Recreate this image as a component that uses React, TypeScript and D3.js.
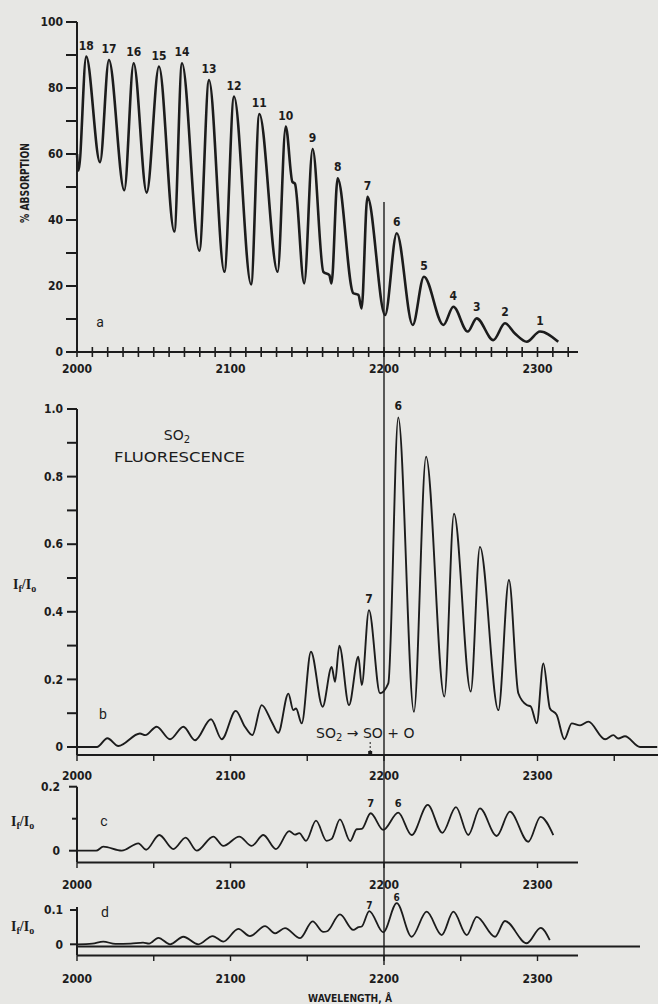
import React from 'react';
import * as d3 from 'd3';

type Pt = [number, number];

// panel a: % absorption vs wavelength (Å)
const absorption: Pt[] = [
  [2000, 60], [2001, 55], [2006, 89.5], [2015, 57.5], [2020.8, 88.5], [2030.8, 49],
  [2036.9, 87.5], [2045.4, 48.3], [2053.4, 86.5], [2063.4, 36.5], [2068.4, 87.5],
  [2079.7, 30.7], [2086, 82.4], [2096, 24.3], [2102.3, 77.4], [2113.4, 20.5],
  [2118.8, 72.1], [2130.7, 24.3], [2136, 68.3], [2140.3, 51.6], [2142, 51],
  [2148, 20.8], [2153.5, 61.5], [2160.5, 24.3], [2164.4, 23.3], [2165.8, 20.8],
  [2169.8, 52.6], [2180, 17.8], [2183.3, 17.3], [2185.4, 13.2], [2189.2, 47],
  [2200.7, 11.2], [2208.3, 36], [2218.7, 8.2], [2226, 22.8], [2238.7, 8.2],
  [2245.2, 13.7], [2254.5, 6.2], [2260.4, 10.2], [2271.2, 3.6], [2278.8, 8.7],
  [2285.3, 5.6], [2293, 3.1], [2301.6, 6.2], [2313.5, 3.1],
];
const absPeakNames = ['18', '17', '16', '15', '14', '13', '12', '11', '10', '9', '8', '7', '6', '5', '4', '3', '2', '1'];
const absPeakWl = [2006, 2020.8, 2036.9, 2053.4, 2068.4, 2086, 2102.3, 2118.8, 2136, 2153.5, 2169.8, 2189.2, 2208.3, 2226, 2245.2, 2260.4, 2278.8, 2301.6];

// panel b: SO2 fluorescence If/Io
const fluorB: Pt[] = [
  [2000, 0], [2013, 0], [2019.8, 0.026], [2026.9, 0.003], [2041, 0.04], [2044.5, 0.035],
  [2051.9, 0.06], [2060.6, 0.023], [2069.3, 0.06], [2076.9, 0.02], [2087.3, 0.082],
  [2094.3, 0.023], [2103.4, 0.107], [2109.4, 0.06], [2114.2, 0.035], [2120.3, 0.124],
  [2126.8, 0.075], [2131.1, 0.042], [2137.7, 0.158], [2140.9, 0.109], [2142.7, 0.114],
  [2146.4, 0.07], [2152.4, 0.282], [2160, 0.119], [2165.9, 0.237], [2168.1, 0.193],
  [2170.9, 0.3], [2177.2, 0.124], [2183.3, 0.267], [2185.5, 0.183], [2190.2, 0.405],
  [2197.4, 0.159], [2202.8, 0.188], [2209.3, 0.975], [2219.5, 0.104], [2227.4, 0.859],
  [2239.3, 0.149], [2245.6, 0.69], [2256.5, 0.164], [2262.5, 0.592], [2274.5, 0.109],
  [2281.4, 0.494], [2287.5, 0.159], [2293, 0.124], [2295.6, 0.12], [2299.5, 0.07],
  [2303.8, 0.247], [2308.1, 0.114], [2312.5, 0.095], [2317.5, 0.023], [2322.3, 0.07],
  [2327.7, 0.064], [2333.1, 0.075], [2344, 0.023], [2349.4, 0.035], [2352.6, 0.025],
  [2357, 0.032], [2366.8, 0], [2378, 0],
];
const bPeaks: [string, number][] = [['7', 2190.2], ['6', 2209.3]];

// panel c
const fluorC: Pt[] = [
  [2000, 0], [2012.5, 0], [2017.1, 0.0125], [2029.1, 0], [2040, 0.023], [2045, 0.003],
  [2053.6, 0.049], [2062.8, 0.005], [2070.8, 0.041], [2078, 0], [2088.8, 0.044],
  [2095.3, 0.015], [2105.7, 0.044], [2113.8, 0.015], [2121.4, 0.049], [2129.6, 0.005],
  [2138.3, 0.061], [2142, 0.05], [2144.8, 0.055], [2149.2, 0.031], [2155.7, 0.094],
  [2162.6, 0.031], [2165.9, 0.037], [2171.3, 0.098], [2178, 0.03], [2182.2, 0.067],
  [2185.5, 0.068], [2191.3, 0.117], [2199.5, 0.065], [2209.3, 0.119], [2218, 0.049],
  [2228.5, 0.143], [2238, 0.056], [2246.9, 0.136], [2254.9, 0.049], [2262.5, 0.132],
  [2273.4, 0.046], [2282, 0.122], [2294, 0.028], [2302, 0.106], [2310.3, 0.049],
];
const cPeaks: [string, number][] = [['7', 2191.3], ['6', 2209.3]];

// panel d
const fluorD: Pt[] = [
  [2000, 0], [2010, 0.002], [2017.1, 0.008], [2025, 0.001], [2035, 0.002], [2043, 0.005],
  [2047, 0.002], [2053, 0.019], [2060.6, 0], [2069.3, 0.022], [2079, 0], [2088.4, 0.024],
  [2095.3, 0.008], [2105.1, 0.045], [2112.7, 0.024], [2122.5, 0.053], [2129, 0.032],
  [2135.5, 0.047], [2145.3, 0.018], [2153.5, 0.067], [2160.5, 0.036], [2163, 0.038],
  [2171.3, 0.087], [2180, 0.042], [2183.3, 0.05], [2185.5, 0.052], [2190.4, 0.097],
  [2199.5, 0.035], [2208.3, 0.12], [2218, 0.022], [2227.8, 0.095], [2237.6, 0.027],
  [2245.2, 0.095], [2253.9, 0.027], [2260.4, 0.08], [2272.3, 0.022], [2278.8, 0.068],
  [2293, 0.003], [2302.1, 0.048], [2308, 0.012],
];
const dPeaks: [string, number][] = [['7', 2190.4], ['6', 2208.3]];

const wlTicks = [2000, 2100, 2200, 2300];
const absTicks = [0, 20, 40, 60, 80, 100];
const bTicks = [0, 0.2, 0.4, 0.6, 0.8, 1.0];
const cTicks = [0, 0.2];
const dTicks = [0, 0.1];
const thresholdWl = 2191;

const INK = '#1c1c1c';
const BOLD = '"DejaVu Sans Condensed", "DejaVu Sans", sans-serif';

const x = d3.scaleLinear().domain([2000, 2300]).range([77, 537.5]);

const valueAt = (data: Pt[], wl: number) =>
  data.reduce((a, b) => (Math.abs(b[0] - wl) < Math.abs(a[0] - wl) ? b : a))[1];

const Ratio = ({ px, py }: { px: number; py: number }) => (
  <text x={px} y={py} fontFamily='"Liberation Serif", serif' fontWeight="bold" fontSize={14} fill={INK}>
    I<tspan dy={3} fontSize={10}>f</tspan>
    <tspan dy={-3}>/I</tspan>
    <tspan dy={3} fontSize={10}>o</tspan>
  </text>
);

const App = () => {
  const yA = d3.scaleLinear().domain([0, 100]).range([352, 22]);
  const yB = d3.scaleLinear().domain([0, 1]).range([747, 409]);
  const yC = d3.scaleLinear().domain([0, 0.2]).range([850.7, 786.7]);
  const yD = d3.scaleLinear().domain([0, 0.1]).range([944.3, 910]);

  const mk = (y: d3.ScaleLinear<number, number>) =>
    d3.line<Pt>().x(d => x(d[0])).y(d => y(d[1])).curve(d3.curveMonotoneX);

  const wlLabels = (yy: number) =>
    wlTicks.map(t => (
      <text key={t} x={x(t)} y={yy} textAnchor="middle" fontFamily={BOLD} fontWeight="bold" fontSize={12} fill={INK}>
        {t}
      </text>
    ));

  const yLabels = (ticks: number[], y: d3.ScaleLinear<number, number>, fmt: (v: number) => string, right = 63) =>
    ticks.map(t => (
      <text key={t} x={right} y={y(t)} dy="0.35em" textAnchor="end" fontFamily={BOLD} fontWeight="bold" fontSize={12} fill={INK}>
        {fmt(t)}
      </text>
    ));

  const peakLabels = (list: [string, number][], data: Pt[], y: d3.ScaleLinear<number, number>, off: number, size: number) =>
    list.map(([n, wl]) => (
      <text key={n} x={x(wl) - (n === '6' ? 0 : 0)} y={y(valueAt(data, wl)) - off} textAnchor="middle" fontFamily={BOLD} fontWeight="bold" fontSize={size} fill={INK}>
        {n}
      </text>
    ));

  return (
    <svg width={658} height={1004} style={{ position: 'absolute', left: 0, top: 0, background: '#e7e7e4' }}>
      <rect width={658} height={1004} fill="#e7e7e4" />

      {/* ---- panel a ---- */}
      <g stroke={INK} strokeWidth={2}>
        <line x1={77} x2={77} y1={yA(100)} y2={yA(0)} />
        <line x1={77} x2={578} y1={yA(0)} y2={yA(0)} />
        {d3.range(0, 101, 10).map(t => (
          <line key={t} x1={66} x2={77} y1={yA(t)} y2={yA(t)} />
        ))}
        {d3.range(2000, 2321, 10).map(t => (
          <line key={t} x1={x(t)} x2={x(t)} y1={yA(0) - 5} y2={yA(0) + 5} strokeWidth={1.6} />
        ))}
      </g>
      {yLabels(absTicks, yA, v => String(v))}
      {wlLabels(373)}
      <text transform="translate(29,183) rotate(-90)" textAnchor="middle" fontFamily={BOLD} fontWeight="bold" fontSize={12} textLength={80} lengthAdjust="spacingAndGlyphs" fill={INK}>
        % ABSORPTION
      </text>
      <path d={mk(yA)(absorption) ?? ''} fill="none" stroke={INK} strokeWidth={2.6} strokeLinejoin="round" />
      {absPeakNames.map((n, i) => (
        <text key={n} x={x(absPeakWl[i])} y={yA(valueAt(absorption, absPeakWl[i])) - 7} textAnchor="middle" fontFamily={BOLD} fontWeight="bold" fontSize={12} fill={INK}>
          {n}
        </text>
      ))}
      <text x={100} y={327} textAnchor="middle" fontFamily="Roboto, sans-serif" fontSize={14} fill={INK}>a</text>

      {/* ---- panel b ---- */}
      <g stroke={INK} strokeWidth={2}>
        <line x1={77} x2={77} y1={yB(1)} y2={755} />
        <line x1={77} x2={658} y1={755} y2={755} />
        {d3.range(0, 11).map(i => (
          <line key={i} x1={67} x2={77} y1={yB(i / 10)} y2={yB(i / 10)} />
        ))}
        {d3.range(2000, 2351, 50).map(t => (
          <line key={t} x1={x(t)} x2={x(t)} y1={755} y2={761} strokeWidth={1.4} />
        ))}
      </g>
      {yLabels(bTicks, yB, v => (v === 0 ? '0' : v.toFixed(1)))}
      {wlLabels(780)}
      <path d={mk(yB)(fluorB) ?? ''} fill="none" stroke={INK} strokeWidth={1.9} strokeLinejoin="round" />
      {peakLabels(bPeaks, fluorB, yB, 7, 12)}
      <Ratio px={13} py={589} />
      <text x={177} y={440} textAnchor="middle" fontFamily='"DejaVu Sans", sans-serif' fontSize={14} fill={INK}>
        SO<tspan dy={3} fontSize={10}>2</tspan>
      </text>
      <text x={114} y={462} fontFamily='"DejaVu Sans", sans-serif' fontSize={14} textLength={131} lengthAdjust="spacingAndGlyphs" fill={INK}>
        FLUORESCENCE
      </text>
      <text x={103} y={719} textAnchor="middle" fontFamily="Roboto, sans-serif" fontSize={14} fill={INK}>b</text>
      <text x={316} y={738} fontFamily='"DejaVu Sans", sans-serif' fontSize={14} fill={INK}>
        SO<tspan dy={3} fontSize={10}>2</tspan>
        <tspan dy={-3}>{' \u2192 SO + O'}</tspan>
      </text>
      <line x1={x(thresholdWl)} x2={x(thresholdWl)} y1={742} y2={752} stroke={INK} strokeWidth={1} strokeDasharray="2,2" />
      <rect x={x(thresholdWl) - 2} y={751} width={4} height={3} fill={INK} />

      {/* ---- panel c ---- */}
      <g stroke={INK} strokeWidth={2}>
        <line x1={77} x2={77} y1={yC(0.2)} y2={862.5} />
        <line x1={77} x2={578} y1={862.5} y2={862.5} />
        {[0, 0.1, 0.2].map(t => (
          <line key={t} x1={t === 0.1 ? 72 : 69} x2={77} y1={yC(t)} y2={yC(t)} />
        ))}
        {d3.range(2000, 2301, 50).map(t => (
          <line key={t} x1={x(t)} x2={x(t)} y1={862.5} y2={868} strokeWidth={1.4} />
        ))}
      </g>
      {yLabels(cTicks, yC, v => (v === 0 ? '0' : v.toFixed(1)), 60)}
      {wlLabels(889)}
      <path d={mk(yC)(fluorC) ?? ''} fill="none" stroke={INK} strokeWidth={1.8} strokeLinejoin="round" />
      {peakLabels(cPeaks, fluorC, yC, 6, 11)}
      <Ratio px={11} py={826} />
      <text x={104} y={826} textAnchor="middle" fontFamily="Roboto, sans-serif" fontSize={14} fill={INK}>c</text>

      {/* ---- panel d ---- */}
      <g stroke={INK} strokeWidth={2}>
        <line x1={77} x2={77} y1={907} y2={955.5} />
        <line x1={77} x2={578} y1={955.5} y2={955.5} />
        <line x1={77} x2={640} y1={yD(0) + 2.2} y2={yD(0) + 2.2} />
        {dTicks.map(t => (
          <line key={t} x1={70} x2={77} y1={yD(t)} y2={yD(t)} />
        ))}
        {d3.range(2000, 2301, 50).map(t => (
          <line key={t} x1={x(t)} x2={x(t)} y1={955.5} y2={961} strokeWidth={1.4} />
        ))}
      </g>
      {yLabels(dTicks, yD, v => (v === 0 ? '0' : v.toFixed(1)), 63)}
      {wlLabels(983)}
      <path d={mk(yD)(fluorD) ?? ''} fill="none" stroke={INK} strokeWidth={1.8} strokeLinejoin="round" />
      {peakLabels(dPeaks, fluorD, yD, 2, 10)}
      <Ratio px={11} py={931} />
      <text x={105} y={917} textAnchor="middle" fontFamily="Roboto, sans-serif" fontSize={14} fill={INK}>d</text>
      <text x={350} y={1002} textAnchor="middle" fontFamily={BOLD} fontWeight="bold" fontSize={11} textLength={84} lengthAdjust="spacingAndGlyphs" fill={INK}>
        WAVELENGTH, Å
      </text>

      {/* 2200 Å marker line */}
      <line x1={x(2200)} x2={x(2200)} y1={202} y2={965} stroke={INK} strokeWidth={1.4} />
    </svg>
  );
};

export default App;
